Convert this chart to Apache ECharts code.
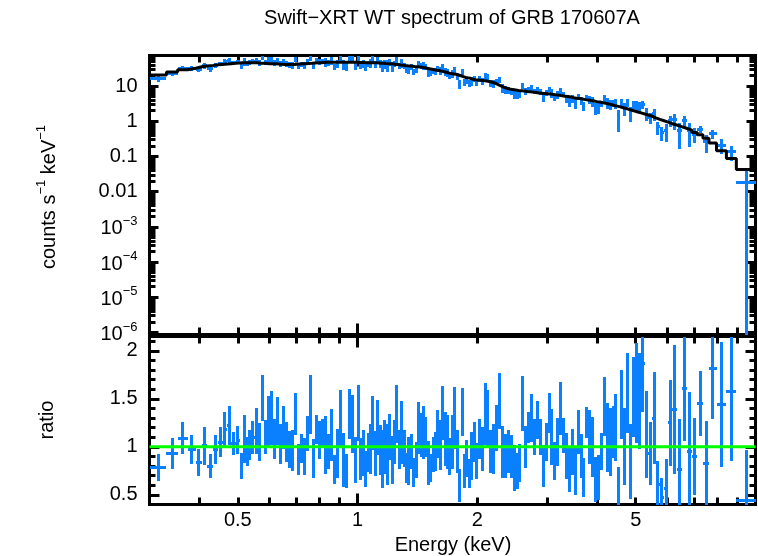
<!DOCTYPE html>
<html>
<head>
<meta charset="utf-8">
<script src="https://cdn.jsdelivr.net/npm/echarts@6/dist/echarts.min.js"></script>
<style>html,body{margin:0;padding:0;background:#fff}#chart{width:758px;height:556px}</style>
</head>
<body>
<div id="chart"></div>
<script>
// ---------------- data ----------------
// channel bin edges in keV (bin i spans binEdges[i] .. binEdges[i+1])
const binEdges = [
  0.300, 0.331, 0.353, 0.374, 0.392, 0.406, 0.418, 0.434, 0.446, 0.458, 0.470, 0.482, 0.494, 0.505,
  0.514, 0.523, 0.532, 0.541, 0.551, 0.561, 0.571, 0.581, 0.591, 0.601, 0.612, 0.623, 0.634, 0.645,
  0.656, 0.668, 0.680, 0.692, 0.704, 0.716, 0.729, 0.742, 0.755, 0.768, 0.782, 0.796, 0.810, 0.824,
  0.838, 0.853, 0.868, 0.883, 0.899, 0.915, 0.931, 0.947, 0.964, 0.981, 0.998,
  1.012, 1.026, 1.040, 1.055, 1.070, 1.085, 1.100, 1.115, 1.131, 1.147, 1.163, 1.179, 1.196, 1.213,
  1.230, 1.247, 1.264, 1.282, 1.300, 1.318, 1.337, 1.356, 1.375, 1.394, 1.414, 1.434, 1.454, 1.474,
  1.495, 1.516, 1.537, 1.559, 1.581, 1.603, 1.626, 1.649, 1.672, 1.695, 1.719, 1.743, 1.768, 1.793,
  1.818, 1.844, 1.870, 1.896, 1.923, 1.950, 1.977, 2.005,
  2.039, 2.074, 2.109, 2.145, 2.181, 2.218, 2.256, 2.294, 2.333, 2.373, 2.413, 2.454, 2.496, 2.538,
  2.581, 2.625, 2.670, 2.715, 2.761, 2.808, 2.856, 2.904, 2.953, 3.003, 3.054, 3.106, 3.159, 3.213,
  3.267, 3.323, 3.379, 3.436, 3.494, 3.553, 3.613, 3.675, 3.737, 3.800, 3.865, 3.931, 3.998, 4.066,
  4.135, 4.205, 4.276, 4.349, 4.423, 4.498, 4.574, 4.652, 4.731, 4.811, 4.893, 4.976, 5.060,
  5.16, 5.27, 5.38, 5.50, 5.62, 5.75, 5.89, 6.03, 6.18, 6.34, 6.52, 6.71, 6.92, 7.14, 7.38, 7.64,
  7.98, 8.45, 8.95, 10.0
];

// folded model, counts s^-1 keV^-1, one value per bin
const modelRate = [
  20.5, 25, 29, 32, 35, 37, 38.5, 40, 41, 42, 43, 44, 45,
  46, 46, 46, 46, 46, 46, 44.5, 44, 43.5, 43, 43, 42.5, 42, 41.5, 41, 40.5, 40.5, 41, 41.5,
  42, 42.5, 43, 43.5, 44, 45, 45.5, 46, 46.5, 47, 47, 47.5, 47.5, 47.5, 47.5, 47.5, 47.5, 47.5, 47, 47,
  46.5, 46.5, 46.5, 46, 46, 46, 45.5, 45.5, 45, 44.5, 44, 43.5, 43, 42.5, 42, 41, 40.5, 39.5, 39, 38.2,
  37.5, 37, 36.5, 35.5, 35, 34.5, 34, 33, 32, 31, 30, 29, 28, 27.5, 26.5, 25.5, 24.5, 23.5, 22.5, 22,
  21.5, 20.5, 19.5, 18.5, 17.5, 17, 16.5, 15.5, 15, 14.8,
  14.5, 14.2, 13.8, 13.4, 12.8, 12.0, 11.0, 10.0, 9.2, 8.6, 8.2, 7.9, 7.7, 7.5, 7.35, 7.2, 7.0, 6.85,
  6.7, 6.5, 6.3, 6.2, 6.1, 6.0, 5.9, 5.75, 5.6, 5.45, 5.3, 5.15, 5.0, 4.85, 4.65, 4.5, 4.4, 4.25, 4.1,
  4.0, 3.87, 3.75, 3.6, 3.5, 3.35, 3.22, 3.1, 2.95, 2.8, 2.68, 2.55, 2.42, 2.3, 2.17, 2.05, 1.93, 1.82,
  1.72, 1.6, 1.5, 1.38, 1.25, 1.13, 1.03, 0.94, 0.85, 0.78, 0.70, 0.63, 0.56, 0.48, 0.41, 0.33, 0.24,
  0.145, 0.087, 0.0425
];

// data / model ratio per bin
const ratioVal = [
  0.78, 0.93, 1.09, 0.97, 0.84, 1.01, 0.80, 0.97, 1.05, 1.18, 1.22, 1.03, 1.07,
  0.80, 1.08, 0.95, 1.02, 1.10, 1.16, 1.05, 1.51, 1.10, 1.27, 1.30, 1.08, 1.27, 1.03, 1.20, 1.05,
  0.97, 0.96, 1.34, 0.87, 0.98, 0.90, 1.14, 1.44, 0.88, 1.18, 1.07, 1.15, 1.02, 0.95, 1.12, 0.76,
  0.93, 1.30, 0.86, 0.75, 1.34, 1.24, 0.86,
  1.35, 0.87, 0.94, 0.77, 0.94, 0.98, 1.25, 0.93, 1.20, 0.97, 0.87, 1.00, 0.92, 1.10, 0.86, 1.05,
  1.34, 0.97, 1.15, 0.98, 0.78, 0.85, 0.95, 0.73, 0.86, 1.20, 1.12, 1.15, 1.10, 0.83, 0.78, 0.92,
  0.95, 1.13, 1.02, 1.35, 1.08, 1.05, 0.90, 1.05, 1.30, 0.95, 0.60, 1.36, 0.75, 0.88, 0.72, 0.90,
  1.05, 0.85,
  1.08, 0.98, 1.34, 1.30, 0.95, 0.98, 1.20, 1.48, 0.95, 0.90, 0.95, 0.90, 0.78, 0.75, 0.83, 1.45,
  1.00, 1.20, 1.30, 1.10, 1.28, 1.10, 0.80, 1.05, 1.35, 1.10, 0.85, 1.05, 1.40, 1.12, 0.90, 0.76,
  0.95, 0.75, 1.15, 0.90, 0.68, 1.25, 1.10, 1.00, 0.66, 0.68, 0.95, 1.42, 1.10, 1.05, 1.15, 1.20,
  0.49, 1.44, 1.00, 1.56, 0.85, 1.52, 1.56,
  1.48, 1.87, 1.13, 0.93, 1.30, 0.61, 0.47, 0.57, 1.25, 1.39, 0.76, 1.61, 0.95, 0.90, 1.45, 0.83,
  1.82, 1.44, 1.58, 0.44
];

// 1-sigma error of the ratio per bin
const ratioErr = [
  0.14, 0.16, 0.17, 0.15, 0.14, 0.20, 0.13, 0.15, 0.16, 0.18, 0.20, 0.12, 0.15,
  0.14, 0.25, 0.15, 0.16, 0.17, 0.24, 0.20, 0.24, 0.18, 0.26, 0.28, 0.21, 0.25, 0.21, 0.22, 0.21,
  0.19, 0.21, 0.22, 0.16, 0.15, 0.19, 0.18, 0.31, 0.20, 0.15, 0.20, 0.14, 0.30, 0.18, 0.27, 0.15,
  0.26, 0.29, 0.28, 0.18, 0.26, 0.30, 0.24,
  0.29, 0.22, 0.24, 0.19, 0.20, 0.26, 0.28, 0.23, 0.29, 0.26, 0.30, 0.28, 0.32, 0.24, 0.25, 0.23,
  0.30, 0.20, 0.33, 0.19, 0.16, 0.25, 0.18, 0.15, 0.19, 0.27, 0.23, 0.28, 0.21, 0.23, 0.15, 0.18,
  0.20, 0.25, 0.26, 0.28, 0.28, 0.28, 0.19, 0.28, 0.32, 0.22, 0.17, 0.25, 0.18, 0.19, 0.15, 0.25,
  0.21, 0.19,
  0.21, 0.23, 0.32, 0.29, 0.22, 0.26, 0.24, 0.29, 0.27, 0.23, 0.22, 0.22, 0.24, 0.19, 0.20, 0.29,
  0.22, 0.16, 0.25, 0.19, 0.20, 0.19, 0.22, 0.20, 0.21, 0.29, 0.20, 0.25, 0.28, 0.18, 0.24, 0.23,
  0.24, 0.25, 0.23, 0.23, 0.20, 0.16, 0.28, 0.31, 0.23, 0.23, 0.19, 0.31, 0.36, 0.35, 0.27, 0.35,
  0.30, 0.36, 0.40, 0.42, 0.39, 0.42, 0.52,
  0.50, 0.51, 0.45, 0.33, 0.48, 0.24, 0.20, 0.30, 0.45, 0.67, 0.53, 0.55, 0.62, 0.40, 0.34, 0.44,
  0.53, 0.65, 0.73, 0.53
];

// tick labels
const xTickLabels = [0.5, 1, 2, 5];
const yTopTickLabels = [10, 1, 0.1, 0.01, 1e-3, 1e-4, 1e-5, 1e-6];
const yRatioTickLabels = [0.5, 1, 1.5, 2];

// ---------------- layout / style ----------------
const X_MIN = 0.3, X_MAX = 10;
const Y_TOP_MIN = Math.pow(10, -6.057), Y_TOP_MAX = Math.pow(10, 1.866);
const R_MIN = 0.399, R_MAX = 2.149;
const FONT = '"Liberation Sans", Arial, Helvetica, sans-serif';
const FS = 20;
const BLUE = '#0a80ff';
const LOG = Math.log10;

const nBins = modelRate.length;
const topData = [], ratioData = [], modelStep = [];
for (let i = 0; i < nBins; i++) {
  const lo = binEdges[i], hi = binEdges[i + 1];
  const c = modelRate[i] * ratioVal[i];
  const ce = modelRate[i] * ratioErr[i];
  topData.push([lo, hi, c, c - ce, c + ce]);
  ratioData.push([lo, hi, ratioVal[i], ratioVal[i] - ratioErr[i], ratioVal[i] + ratioErr[i]]);
  modelStep.push([lo, modelRate[i]]);
}
modelStep.push([binEdges[nBins], modelRate[nBins - 1]]);

// crisp 3px strokes: put the stroke centre on a half pixel
const snap = (p) => Math.round(p - 0.5) + 0.5;

function makeErrRender(logY) {
  return function (params, api) {
    const cs = params.coordSys;
    const top = cs.y, bot = cs.y + cs.height, left = cs.x, right = cs.x + cs.width;
    const lo = api.value(0), hi = api.value(1), v = api.value(2), vl = api.value(3), vh = api.value(4);
    const py = (val) => (logY && val <= 0) ? bot + 20 : api.coord([lo, val])[1];
    const xl = api.coord([lo, v])[0], xh = api.coord([hi, v])[0];
    const xc = snap(api.coord([(lo + hi) / 2, v])[0]);
    const yc = snap(py(v)), y1 = py(vh), y2 = py(vl);
    const style = { stroke: BLUE, lineWidth: 3, lineCap: 'butt' };
    const children = [];
    if (yc >= top && yc <= bot) {
      children.push({ type: 'line', shape: { x1: Math.round(Math.max(xl, left)), y1: yc, x2: Math.round(Math.min(xh, right)), y2: yc }, style });
    }
    const a = Math.round(Math.max(Math.min(y1, y2), top)), b = Math.round(Math.min(Math.max(y1, y2), bot));
    if (b > a) children.push({ type: 'line', shape: { x1: xc, y1: a, x2: xc, y2: b }, style });
    return { type: 'group', children };
  };
}

// tick positions
const xMinorTicks = [0.4, 0.5, 0.6, 0.7, 0.8, 0.9, 2, 3, 4, 5, 6, 7, 8, 9];
const xMajorTicks = [1];
const yTopMajor = [], yTopMinor = [];
for (let d = -7; d <= 1; d++) {
  const p = Math.pow(10, d);
  if (p >= Y_TOP_MIN && p <= Y_TOP_MAX) yTopMajor.push(d);
  for (let k = 2; k <= 9; k++) {
    const v = k * p;
    if (v > Y_TOP_MIN && v < Y_TOP_MAX) yTopMinor.push(LOG(v));
  }
}
const rMajor = [0.5, 1, 1.5, 2];
const rMinor = [0.6, 0.7, 0.8, 0.9, 1.1, 1.2, 1.3, 1.4, 1.6, 1.7, 1.8, 1.9, 2.1];

function tickAxis(gridIndex, position, min, max, ticks, len, label) {
  const ax = {
    type: 'value', gridIndex, position, min, max,
    axisLine: { show: false, onZero: false }, splitLine: { show: false },
    axisTick: { show: true, inside: true, length: len, customValues: ticks,
                lineStyle: { color: '#000', width: 3 } },
    axisLabel: { show: false },
    silent: true, z: 6
  };
  if (label) ax.axisLabel = Object.assign({ show: true, color: '#000', fontFamily: FONT, fontSize: FS }, label);
  return ax;
}

function fmtTop(v) {
  const val = yTopTickLabels.find(l => Math.abs(LOG(l) - v) < 1e-6);
  if (val >= 0.01) return String(val);
  return '{b|10}{s|\u2212' + Math.round(-LOG(val)) + '}';
}
function fmtX(v) {
  const val = xTickLabels.find(l => Math.abs(LOG(l) - v) < 1e-6);
  return String(val);
}

const lxMin = LOG(X_MIN), lxMax = LOG(X_MAX);
const lyMin = LOG(Y_TOP_MIN), lyMax = LOG(Y_TOP_MAX);

const xAxes = [
  { type: 'log', gridIndex: 0, min: X_MIN, max: X_MAX, show: false, axisLine: { onZero: false } },
  { type: 'log', gridIndex: 1, min: X_MIN, max: X_MAX, show: false, axisLine: { onZero: false } },
];
const yAxes = [
  { type: 'log', gridIndex: 0, min: Y_TOP_MIN, max: Y_TOP_MAX, show: false, axisLine: { onZero: false } },
  { type: 'value', gridIndex: 1, min: R_MIN, max: R_MAX, show: false, axisLine: { onZero: false } },
];
for (const g of [0, 1]) {
  for (const pos of ['bottom', 'top']) {
    xAxes.push(tickAxis(g, pos, lxMin, lxMax, xMinorTicks.map(LOG), 7));
    const lab = (g === 1 && pos === 'bottom')
      ? { customValues: xTickLabels.map(LOG), formatter: fmtX, margin: 6 } : null;
    xAxes.push(tickAxis(g, pos, lxMin, lxMax, xMajorTicks.map(LOG), 11, lab));
  }
}
for (const pos of ['left', 'right']) {
  yAxes.push(tickAxis(0, pos, lyMin, lyMax, yTopMinor, 6));
  const labTop = pos === 'left' ? {
    customValues: yTopTickLabels.map(LOG), formatter: fmtTop, margin: 12,
    rich: { b: { fontSize: FS, fontFamily: FONT, color: '#000', lineHeight: 24, verticalAlign: 'bottom' },
            s: { fontSize: 13, fontFamily: FONT, color: '#000', lineHeight: 14, verticalAlign: 'top' } }
  } : null;
  yAxes.push(tickAxis(0, pos, lyMin, lyMax, yTopMajor, 9, labTop));
  yAxes.push(tickAxis(1, pos, R_MIN, R_MAX, rMinor, 6));
  const labR = pos === 'left' ? { customValues: yRatioTickLabels, formatter: v => String(v), margin: 12 } : null;
  yAxes.push(tickAxis(1, pos, R_MIN, R_MAX, rMajor, 10, labR));
}

const txt = { fill: '#000', fontFamily: FONT, fontSize: FS, align: 'center', verticalAlign: 'middle' };

const option = {
  animation: false,
  backgroundColor: '#fff',
  grid: [
    { left: 149.5, right: 2.5, top: 55.5, height: 279, show: true, borderColor: '#000', borderWidth: 3, backgroundColor: 'transparent' },
    { left: 149.5, right: 2.5, top: 336.5, height: 168, show: true, borderColor: '#000', borderWidth: 3, backgroundColor: 'transparent' }
  ],
  xAxis: xAxes,
  yAxis: yAxes,
  series: [
    { type: 'custom', name: 'data', xAxisIndex: 0, yAxisIndex: 0, data: topData,
      encode: { x: [0, 1], y: 2 }, renderItem: makeErrRender(true), z: 7, silent: true },
    { type: 'line', name: 'model', xAxisIndex: 0, yAxisIndex: 0, data: modelStep, step: 'end',
      symbol: 'none', lineStyle: { color: '#000', width: 3 }, z: 8, silent: true },
    { type: 'custom', name: 'ratio', xAxisIndex: 1, yAxisIndex: 1, data: ratioData,
      encode: { x: [0, 1], y: 2 }, renderItem: makeErrRender(false), z: 7, silent: true },
    { type: 'line', name: 'unity', xAxisIndex: 1, yAxisIndex: 1, data: [[X_MIN, 1], [X_MAX, 1]],
      symbol: 'none', lineStyle: { color: '#00ff00', width: 3 }, z: 9, silent: true }
  ],
  graphic: [
    { type: 'text', x: 452, y: 18, style: Object.assign({ text: 'Swift\u2212XRT WT spectrum of GRB 170607A' }, txt) },
    { type: 'text', x: 453, y: 545, style: Object.assign({ text: 'Energy (keV)' }, txt) },
    { type: 'text', x: 47, y: 197, rotation: Math.PI / 2, style: {
        text: '{t|counts s}{s|\u22121}{t| keV}{s|\u22121}', align: 'center', verticalAlign: 'middle', fill: '#000',
        rich: { t: { fontSize: FS, fontFamily: FONT, fill: '#000', lineHeight: 24, verticalAlign: 'bottom' },
                s: { fontSize: 13, fontFamily: FONT, fill: '#000', lineHeight: 14, verticalAlign: 'top' } } } },
    { type: 'text', x: 47, y: 420, rotation: Math.PI / 2, style: Object.assign({ text: 'ratio' }, txt) }
  ]
};

const chart = echarts.init(document.getElementById('chart'), null, { renderer: 'canvas' });
chart.setOption(option);
</script>
</body>
</html>
